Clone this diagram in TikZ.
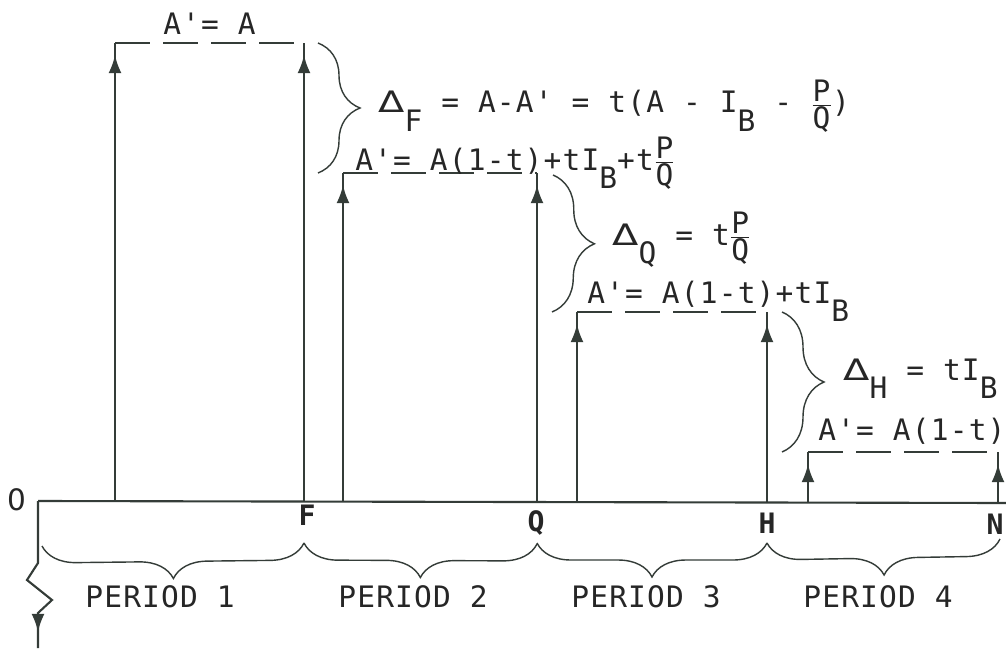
\documentclass[tikz,border=0pt]{standalone}
\usepackage{fontspec}
\usepackage{graphicx}
\setmonofont{DejaVu Sans Mono}[LetterSpace=4]
\setsansfont{DejaVu Sans}
\newfontfamily\deltafont{DejaVu Sans}
\usetikzlibrary{arrows.meta,calc,decorations.pathreplacing,decorations.markings}
\definecolor{ink}{RGB}{52,60,56}
\newcommand\sub[1]{\raisebox{-0.62em}{#1}}
\newcommand\tri{{\deltafont\scalebox{1.3}[1]{Δ}}}
\newcommand\pq{$\frac{\mbox{P}}{\mbox{Q}}$}

\begin{document}
\begin{tikzpicture}[x=0.025cm,y=-0.025cm,
  txt/.style={font=\ttfamily\fontsize{21}{25}\selectfont,text=black!85,inner sep=0pt},
  axlbl/.style={font=\ttfamily\bfseries\fontsize{20}{24}\selectfont,text=black!85,inner sep=0pt},
  riser/.style={draw=ink,line width=1.5pt,postaction={decorate},
    decoration={markings,mark=at position #1 with {\arrow[ink]{Latex[length=0.45cm,width=0.32cm]}}}},
  riser/.default=-0.3cm,
  plateau/.style={draw=ink,line width=1.5pt,dash pattern=on 0.88cm off 0.32cm},
  drop/.style={draw=ink,line width=1pt,decorate,decoration={brace,amplitude=1.05cm}},
  period/.style={draw=ink,line width=1pt,decorate,decoration={brace,amplitude=0.85cm}}]
 \clip (0,0) rectangle (1006,650);
 \fill[white] (0,0) rectangle (1006,650);
 % time axis and period ends
 \coordinate (O) at (38,501);
 \coordinate (F) at (304,501);
 \coordinate (Q) at (537,502);
 \coordinate (H) at (767,503);
 \coordinate (N) at (998,503);
 \coordinate (xend) at (1006,503);
 % foot of each left riser
 \coordinate (b1) at (115,501);
 \coordinate (b2) at (343,501);
 \coordinate (b3) at (577,502);
 \coordinate (b4) at (808,503);
 % plateau corners
 \coordinate (a1) at (115,43);  \coordinate (c1) at (304,43);
 \coordinate (a2) at (343,173); \coordinate (c2) at (537,173);
 \coordinate (a3) at (577,312); \coordinate (c3) at (767,312);
 \coordinate (a4) at (808,452); \coordinate (c4) at (998,452);
 % broken downward leg
 \coordinate (z1) at (38,563);
 \coordinate (z2) at (27,580);
 \coordinate (z3) at (52,600);
 \coordinate (z4) at (38,613);
 \coordinate (zend) at (38,648);

 \draw[draw=ink,line width=1.5pt] (O) -- (xend);
 \draw[riser=-0.4cm] (O) -- (z1) -- (z2) -- (z3) -- (z4) -- (zend);

 \draw[riser] (b1) -- (a1);
 \draw[riser] (F) -- (c1);
 \draw[plateau] (a1) -- (c1);
 \draw[riser] (b2) -- (a2);
 \draw[riser] (Q) -- (c2);
 \draw[plateau] (a2) -- (c2);
 \draw[riser] (b3) -- (a3);
 \draw[riser] (H) -- (c3);
 \draw[plateau] (a3) -- (c3);
 \draw[riser] (b4) -- (a4);
 \draw[riser] (N) -- (c4);
 \draw[plateau] (a4) -- (c4);

 % drops between plateaus
 \draw[drop] ($(c1)+(14,0)$) -- ($(c1 |- a2)+(14,0)$);
 \draw[drop] ($(c2)+(16,2)$) -- ($(c2 |- a3)+(15,0)$);
 \draw[drop] ($(c3)+(15,0)$) -- ($(c3 |- a4)+(15,0)$);

 \node[txt,anchor=base west] (lev1) at (163,35) {A'= A};
 \node[txt,anchor=base west] (delF) at (378,113) {\tri\sub{F} = A-A' = t(A - I\sub{B} - \pq)};
 \node[txt,anchor=base west] (lev2) at (355,170) {A'= A(1-t)+tI\sub{B}+t\pq};
 \node[txt,anchor=base west] (delQ) at (612,245) {\tri\sub{Q} = t\pq};
 \node[txt,anchor=base west] (lev3) at (587,303) {A'= A(1-t)+tI\sub{B}};
 \node[txt,anchor=base west] (delH) at (843,380) {\tri\sub{H} = tI\sub{B}};
 \node[txt,anchor=base west] (lev4) at (818,440) {A'= A(1-t)};

 % axis labels
 \node[txt] (orig) at (17,500) {\sffamily 0};
 \node[axlbl] (lF) at (307,515) {F};
 \node[axlbl] (lQ) at (536,523) {Q};
 \node[axlbl] (lH) at (767,523) {H};
 \node[axlbl] (lN) at (995,524) {N};

 % periods
 \draw[period] ($(F)+(0,42)$) -- ($(O)+(4,45)$);
 \draw[period] ($(Q)+(0,42)$) -- ($(F)+(0,42)$);
 \draw[period] ($(H)+(0,40)$) -- ($(Q)+(0,41)$);
 \draw[period] ($(N)+(2,36)$) -- ($(H)+(0,40)$);
 \node[txt] (p1) at (160,597) {PERIOD 1};
 \node[txt] (p2) at (413,597) {PERIOD 2};
 \node[txt] (p3) at (646,597) {PERIOD 3};
 \node[txt] (p4) at (878,597) {PERIOD 4};
\end{tikzpicture}
\end{document}
